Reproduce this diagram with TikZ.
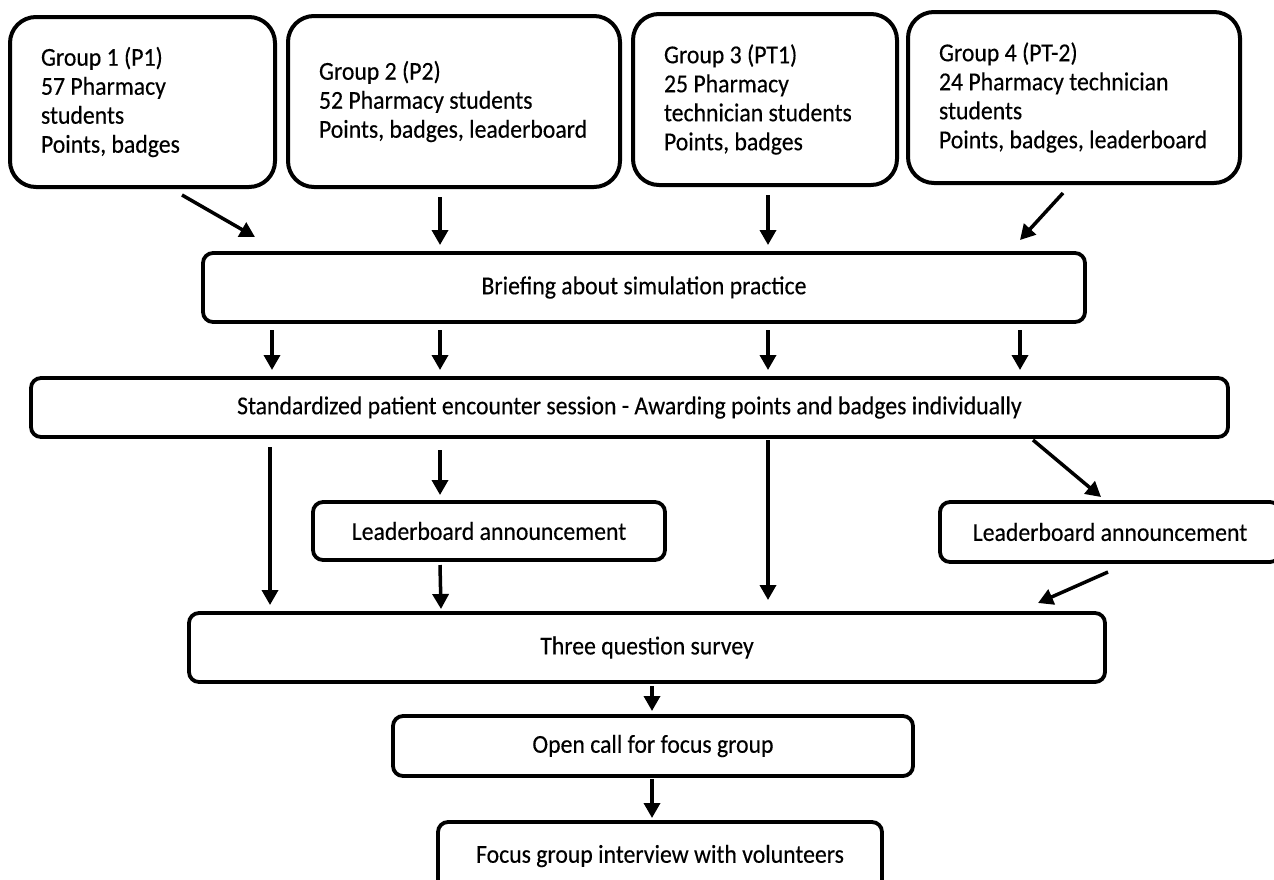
\documentclass[tikz,border=0pt]{standalone}
\usepackage{fontspec}
\setmainfont{Carlito}[FakeStretch=0.92,FakeBold=0.3]
\usetikzlibrary{shapes,arrows.meta,positioning,calc}
\tikzstyle{grp}=[rectangle,draw,line width=4pt,rounded corners=26pt,outer sep=0pt,inner xsep=31pt,align=flush left,font=\fontsize{25.8}{29}\selectfont]
\tikzstyle{stage}=[rectangle,draw,line width=3.8pt,rounded corners=10pt,outer sep=0pt,align=center,font=\fontsize{25.8}{29}\selectfont]
\tikzstyle{arr}=[-{Triangle[length=15pt,width=16pt]},line width=3.5pt]

\begin{document}
\begin{tikzpicture}[x=1pt,y=-1pt]
\clip (0,0) rectangle (1274,879);
\node[grp,text width=203pt,minimum height=170pt] (g1) at (142.5,102) {Group 1 (P1)\\57 Pharmacy\\students\\Points, badges};
\node[grp,text width=270pt,minimum height=171pt] (g2) at (454,101.5) {Group 2 (P2)\\52 Pharmacy students\\Points, badges, leaderboard};
\node[grp,text width=202pt,minimum height=171pt] (g3) at (765,99.5) {Group 3 (PT1)\\25 Pharmacy\\technician students\\Points, badges};
\node[grp,text width=270pt,minimum height=171pt] (g4) at (1074,97.5) {Group 4 (PT-2)\\24 Pharmacy technician\\students\\Points, badges, leaderboard};
\node[stage,minimum width=882pt,minimum height=69pt] (brief) at (644,287.5) {Briefing about simulation practice};
\node[stage,minimum width=1197pt,minimum height=59pt] (spe) at (629.5,407.5) {Standardized patient encounter session - Awarding points and badges individually};
\node[stage,minimum width=352pt,minimum height=58pt] (lb1) at (489,531) {Leaderboard announcement};
\node[stage,minimum width=340pt,minimum height=60pt] (lb2) at (1110,532) {Leaderboard announcement};
\node[stage,minimum width=916pt,minimum height=69pt] (survey) at (647,647.5) {Three question survey};
\node[stage,minimum width=520pt,minimum height=60pt] (call) at (653,746) {Open call for focus group};
\node[stage,minimum width=444pt,minimum height=68pt] (focus) at (660,856) {Focus group interview with volunteers};

\draw[arr] ($(g1.south)+(39.5,8)$) -- ($(brief.north west)+(52,-16)$);
\draw[arr] ($(g2.south)+(-14,10)$) -- ($(brief.north west)+(237,-8)$);
\draw[arr] ($(g3.south)+(3,10)$) -- ($(brief.north west)+(565,-8)$);
\draw[arr] ($(g4.south)+(-11,10)$) -- ($(brief.north west)+(817,-13)$);
\draw[arr] ($(brief.south west)+(69,8)$) -- ($(spe.north west)+(241,-8)$);
\draw[arr] ($(brief.south west)+(237,8)$) -- ($(spe.north west)+(409,-8)$);
\draw[arr] ($(brief.south west)+(565,8)$) -- ($(spe.north west)+(737,-8)$);
\draw[arr] ($(brief.south west)+(817,8)$) -- ($(spe.north west)+(989,-8)$);
\draw[arr] ($(spe.south west)+(239,10)$) -- ($(survey.north west)+(81,-8)$);
\draw[arr] ($(spe.south west)+(409,13)$) -- ($(lb1.north west)+(127,-7)$);
\draw[arr] ($(spe.south west)+(737,3)$) -- ($(survey.north west)+(579,-13)$);
\draw[arr] ($(spe.south west)+(1002,3)$) -- ($(lb2.north west)+(161,-5)$);
\draw[arr] ($(lb1.south west)+(127,5)$) -- ($(survey.north west)+(252,-4)$);
\draw[arr] ($(lb2.south west)+(168,10)$) -- ($(survey.north west)+(849,-10)$);
\draw[arr] ($(survey.south west)+(463,4)$) -- ($(call.north west)+(259,-5)$);
\draw[arr] ($(call.south west)+(259,3)$) -- ($(focus.north west)+(214,-4)$);
\end{tikzpicture}
\end{document}
